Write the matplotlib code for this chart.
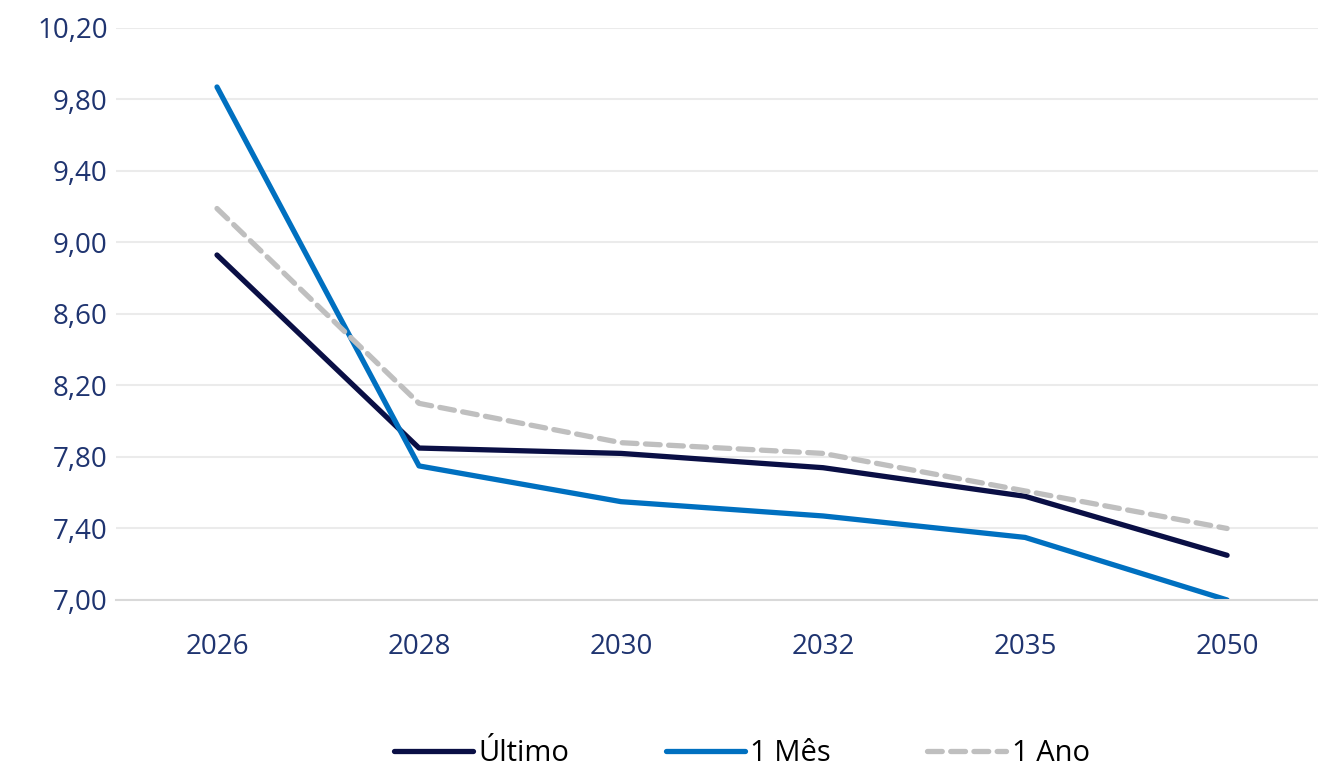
import matplotlib
matplotlib.use("Agg")
import matplotlib.pyplot as plt

# ── Data ─────────────────────────────────────────────────────────────────────
years    = ["2026", "2028", "2030", "2032", "2035", "2050"]
ultimo   = [8.93, 7.85, 7.82, 7.74, 7.58, 7.25]
um_mes   = [9.87, 7.75, 7.55, 7.47, 7.35, 7.00]
um_ano   = [9.19, 8.10, 7.88, 7.82, 7.61, 7.40]
y_ticks  = [7.00, 7.40, 7.80, 8.20, 8.60, 9.00, 9.40, 9.80, 10.20]

plt.rcParams["font.family"] = ["Open Sans", "DejaVu Sans"]
TICK_COLOR = "#1F3470"

fig = plt.figure(figsize=(13.18, 7.69), dpi=100)
ax = fig.add_axes([0.088, 0.2198, 0.912, 0.7438])

x = range(len(years))
ax.plot(x, ultimo, color="#0A0F45", lw=3.8, label="Último", solid_capstyle="round")
ax.plot(x, um_mes, color="#0070C0", lw=3.8, label="1 Mês", solid_capstyle="round")
ax.plot(x, um_ano, color="#BFBFBF", lw=3.8, label="1 Ano",
        dashes=(2.8, 1.6), dash_capstyle="round")

ax.set_ylim(7.0, 10.2)
ax.set_xlim(-0.5, 5.45)
ax.set_yticks(y_ticks)
ax.set_yticklabels([f"{v:.2f}".replace(".", ",") for v in y_ticks])
ax.set_xticks(list(x))
ax.set_xticklabels(years)

ax.grid(axis="y", color="#EBEBEB", lw=1.5)
ax.set_axisbelow(True)
for s in ["top", "right", "left"]:
    ax.spines[s].set_visible(False)
ax.spines["bottom"].set_color("#D9D9D9")
ax.spines["bottom"].set_linewidth(1.5)

ax.tick_params(axis="both", length=0, labelsize=20, colors=TICK_COLOR)
ax.tick_params(axis="x", pad=24)
ax.tick_params(axis="y", pad=6)

fig.legend(loc="center", bbox_to_anchor=(0.563, 0.02), ncol=3, frameon=False,
           fontsize=21, handlelength=2.7, columnspacing=3.3, handletextpad=0.2)

fig.savefig("out.png", dpi=100)
